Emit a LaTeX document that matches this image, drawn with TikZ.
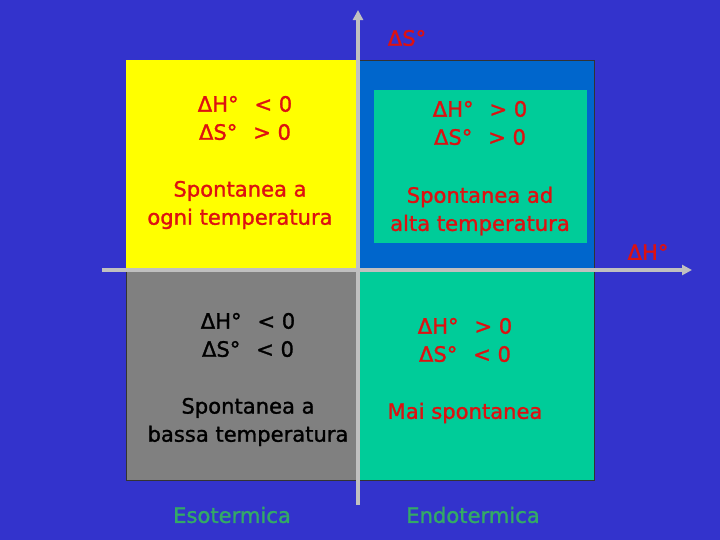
\documentclass[tikz,border=0pt]{standalone}
\usepackage{fontspec}
\setmainfont{DejaVu Sans}[BoldFont=DejaVu Sans,BoldFeatures={FakeBold=1.3}]
\usetikzlibrary{arrows.meta,positioning}
\definecolor{sbback}{HTML}{3333CC}
\definecolor{sbyellow}{HTML}{FFFF00}
\definecolor{sbblue}{HTML}{0066CC}
\definecolor{sbteal}{HTML}{00CC99}
\definecolor{sbgray}{HTML}{808080}
\definecolor{sbaxis}{HTML}{C0C0C0}
\definecolor{sbred}{HTML}{DD1111}
\definecolor{sbgreen}{HTML}{33AA66}
\tikzset{
  quadline/.style={draw=black!80,line width=0.4pt},
  axisline/.style={draw=sbaxis,line width=1.2mm,-{Triangle[length=3mm,width=3mm]}},
  lab/.style={font=\fontsize{18}{24}\selectfont\bfseries,align=center,inner sep=0pt},
  redlab/.style={lab,text=sbred},
  blacklab/.style={lab,text=black},
  kindlab/.style={lab,text=sbgreen},
}
\newcommand{\gap}{\hspace{0.75em}}

\begin{document}
\begin{tikzpicture}[x=0.3mm,y=-0.3mm]
  % ---- background ----
  \fill[sbback] (0,0) rectangle (720,540);
  \useasboundingbox (0,0) rectangle (720,540);

  % ---- quadrants ----
  \fill[sbyellow] (126,60) rectangle (358,268);
  \filldraw[quadline,fill=sbblue] (358,60) rectangle (594,268);
  \fill[sbteal] (374,90) rectangle (587,243);
  \filldraw[quadline,fill=sbgray] (126,268) rectangle (358,480);
  \filldraw[quadline,fill=sbteal] (358,268) rectangle (594,480);

  % ---- axes ----
  \coordinate (hstart) at (102,270);
  \coordinate (hend)   at (692,270);
  \coordinate (vstart) at (358,505);
  \coordinate (vend)   at (358,10);
  \draw[axisline] (hstart) -- (hend);
  \draw[axisline] (vstart) -- (vend);
  \node[redlab] (slab) at (407,38)  {ΔS°};
  \node[redlab] (hlab) at (648,252) {ΔH°};

  % ---- top left ----
  \node[redlab] (tlsign) at (245,118) {ΔH°\gap<\ 0\\ΔS°\gap>\ 0};
  \node[redlab] (tltext) at (240,205) {Spontanea a\\ogni temperatura};

  % ---- top right ----
  \node[redlab] (trsign) at (480,123) {ΔH°\gap>\ 0\\ΔS°\gap>\ 0};
  \node[redlab] (trtext) at (480,211) {Spontanea ad\\alta temperatura};

  % ---- bottom left ----
  \node[blacklab] (blsign) at (248,335) {ΔH°\gap<\ 0\\ΔS°\gap<\ 0};
  \node[blacklab] (bltext) at (248,422) {Spontanea a\\bassa temperatura};

  % ---- bottom right ----
  \node[redlab] (brsign) at (465,340) {ΔH°\gap>\ 0\\ΔS°\gap<\ 0};
  \node[redlab] (brtext) at (465,413) {Mai spontanea};

  % ---- bottom labels ----
  \node[kindlab] (eso)  at (232,515) {Esotermica};
  \node[kindlab] (endo) at (473,515) {Endotermica};
\end{tikzpicture}
\end{document}
